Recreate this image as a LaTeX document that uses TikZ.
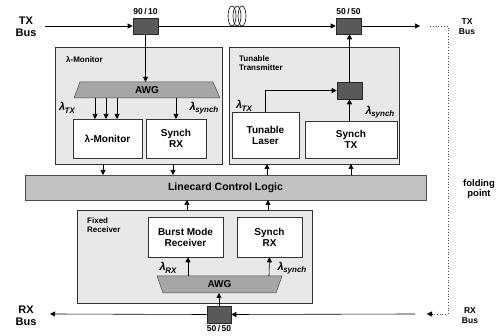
\documentclass[tikz,border=0pt]{standalone}
\usepackage{fontspec}
\setmainfont{Liberation Sans}
\usetikzlibrary{arrows.meta}
\newcommand{\lamsub}[1]{{\fontsize{11}{12}\selectfont\bfseries\itshape λ\kern-0.5pt\raisebox{-2.5pt}{\fontsize{8}{9}\selectfont #1}}}
\begin{document}
\begin{tikzpicture}[x=1pt,y=-1pt,
  every node/.style={font=\bfseries, inner sep=0pt, align=center},
  outerbox/.style={draw=black!80, fill=black!9, line width=0.6pt},
  innerbox/.style={draw=black!80, fill=white, line width=0.6pt, font=\bfseries\fontsize{10}{11}\selectfont},
  coupler/.style={draw=black!85, fill=black!65, line width=0.6pt, minimum width=25pt, minimum height=16pt},
  awgshape/.style={draw=black!70, fill=black!35, line width=0.5pt},
  lcbox/.style={draw=black!70, fill=black!24, line width=0.6pt, font=\bfseries\fontsize{10.5}{11.5}\selectfont},
  title/.style={font=\bfseries\fontsize{8}{9}\selectfont, align=left, anchor=north west},
  lab/.style={},
  small/.style={font=\bfseries\fontsize{8.5}{9}\selectfont},
  busL/.style={font=\bfseries\fontsize{11}{11.5}\selectfont},
  busR/.style={font=\bfseries\fontsize{8.5}{10}\selectfont},
  conn/.style={line width=0.6pt, -{Triangle[length=5pt,width=5pt]}},
  plain/.style={line width=0.6pt},
  fold/.style={dotted, line width=0.8pt, black!70}
]
\useasboundingbox (0,0) rectangle (501,336);

% outer boxes
\node[outerbox, minimum width=167pt, minimum height=117pt] (lmo) at (138.5,105.5) {};
\node[outerbox, minimum width=170pt, minimum height=117pt] (tto) at (314,105.5) {};
\node[outerbox, minimum width=235pt, minimum height=93pt] (fro) at (194.5,256.5) {};
\node[lcbox, minimum width=401pt, minimum height=25pt] (lc) at (225.5,187.5) {Linecard Control Logic};

\node[title] (lmt) at (66,56) {λ-Monitor};
\node[title] (ttt) at (239,56) {Tunable\\Transmitter};
\node[title] (frt) at (87,218) {Fixed\\Receiver};

% inner boxes
\node[innerbox, minimum width=69pt, minimum height=39pt] (lm) at (107.5,138.5) {λ-Monitor};
\node[innerbox, minimum width=60pt, minimum height=39pt] (srxa) at (176,138.5) {Synch\\RX};
\node[innerbox, minimum width=67pt, minimum height=46pt] (tl) at (265.5,135) {Tunable\\Laser};
\node[innerbox, minimum width=92pt, minimum height=37pt] (stx) at (351,139.5) {Synch\\TX};
\node[innerbox, minimum width=75pt, minimum height=40pt] (bmr) at (185.5,237) {Burst Mode\\Receiver};
\node[innerbox, minimum width=65pt, minimum height=40pt] (srxb) at (269.5,237) {Synch\\RX};

% AWGs
\draw[awgshape] (80,82) -- (213,82) -- (220,98) -- (74,98) -- cycle;
\node[minimum width=140pt, minimum height=16pt, font=\bfseries\fontsize{10}{10}\selectfont] (awga) at (147,90) {AWG};
\draw[awgshape] (157,276) -- (282,276) -- (276,293) -- (163,293) -- cycle;
\node[minimum width=120pt, minimum height=17pt, font=\bfseries\fontsize{10}{10}\selectfont] (awgb) at (219.5,284.5) {AWG};

% couplers
\node[coupler] (ca) at (145.5,26) {};
\node[coupler] (cb) at (348.5,26) {};
\node[coupler, minimum height=17pt] (cc) at (349.5,90.5) {};
\node[coupler, minimum width=24pt, minimum height=17pt] (cd) at (219,314.5) {};
\node[small, anchor=south] (la) at (145.5,15) {90\,/\,10};
\node[small, anchor=south] (lb) at (348.5,15) {50\,/\,50};
\node[small, anchor=north] (ld) at (219,325) {50\,/\,50};

% bus labels
\node[busL] (txl) at (26,27) {TX\\Bus};
\node[busL] (rxl) at (26,316) {RX\\Bus};
\node[busR] (txr) at (467,27) {TX\\Bus};
\node[busR] (rxr) at (470,316) {RX\\Bus};
\node[font=\bfseries\fontsize{9.5}{10.5}\selectfont] (fp) at (479,189) {folding\\point};

% free ends
\coordinate (txin) at (45,26);
\coordinate (txout) at (420,26);
\coordinate (rxin) at (415,314);
\coordinate (rxout) at (50,314);
\coordinate (fa) at (430,26);
\coordinate (fb) at (448,26);
\coordinate (fc) at (448,314);
\coordinate (fd) at (427,314);

% TX bus
\draw[conn] (txin) -- (ca.west);
\draw[conn] (ca.east) -- (cb.west);
\foreach \cx in {232,237,242} \draw[line width=0.6pt, fill=none] (\cx,16) ellipse (4pt and 10pt);
\draw[conn] (cb.east) -- (txout);

% folding
\draw[fold] (fa) -- (fb) -- (fc) -- ([xshift=5pt]fd);
\draw[conn, line width=0.5pt] ([xshift=5pt]fd) -- (fd);

% RX bus
\draw[conn] (rxin) -- (cd.east);
\draw[conn] (cd.west) -- (rxout);

% lambda monitor
\draw[conn] (ca.south) -- (ca.south |- awga.north);
\foreach \cx in {95,106,117} \draw[conn] (\cx,98) -- (\cx,119);
\draw[conn] (176,98) -- (176,119);
\draw[conn] (103,164) -- (103,175);
\draw[conn] (173,164) -- (173,175);
\node[lab] (l1) at (67,108) {\lamsub{TX}};
\node[lab] (l2) at (204,108) {\lamsub{synch}};

% tunable tx
\draw[conn] (tl.north) -- (tl.north |- cc.west) -- (cc.west);
\draw[conn] (stx.north -| cc.south) -- (cc.south);
\draw[conn] (cc.north) -- (cb.south -| cc.north);
\draw[conn] (267,175) -- (267,164);
\draw[conn] (351,175) -- (351,164);
\node[lab] (l3) at (244,106) {\lamsub{TX}};
\node[lab] (l4) at (380,112) {\lamsub{synch}};

% fixed receiver
\draw[conn] (187,210) -- (187,200);
\draw[conn] (268,210) -- (268,200);
\draw[conn] (cd.north) -- (219,293);
\draw[conn] (188,276) -- ([xshift=2.5pt]bmr.south);
\draw[conn] (269,276) -- (srxb.south);
\node[lab] (l5) at (168,268) {\lamsub{RX}};
\node[lab] (l6) at (292,268) {\lamsub{synch}};
\end{tikzpicture}
\end{document}
